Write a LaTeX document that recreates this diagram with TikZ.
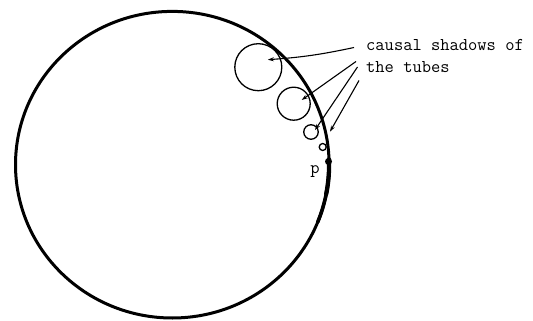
\documentclass[tikz,border=0pt]{standalone}
\usetikzlibrary{arrows.meta}
\begin{document}
\begin{tikzpicture}[x=1pt,y=-1pt,
  shadow/.style={draw,circle,line width=1.3pt,inner sep=0pt},
  pointer/.style={line width=1.1pt,-{Stealth[length=6pt,width=4pt]}},
  lbl/.style={font=\ttfamily\fontsize{18}{22}\selectfont,inner sep=0pt}]
\useasboundingbox (0,0) rectangle (533,321);
% big circle
\draw[line width=3pt] (172.3,164.7) ellipse [x radius=156.8, y radius=153.3];
\draw[line width=3.6pt,line cap=round] plot[domain=-2:22,smooth,samples=25] ({172.3+156.8*cos(\x)},{164.7+153.3*sin(\x)});
\draw[line width=4.3pt,line cap=round] plot[domain=-2:11,smooth,samples=15] ({172.3+156.8*cos(\x)},{164.7+153.3*sin(\x)});
% causal shadows
\node[shadow,minimum size=47pt] (c1) at (258.3,67.2) {};
\node[shadow,minimum size=33pt] (c2) at (293.7,103.7) {};
\node[shadow,minimum size=14.5pt] (c3) at (311,132) {};
\node[shadow,minimum size=7pt] (c4) at (322.7,147) {};
% point p
\node[fill,circle,minimum size=7pt,inner sep=0pt] (p) at (328.5,161.5) {};
\node[lbl,anchor=base] (plbl) at (315,173.3) {p};
% label
\node[lbl,anchor=base west] (t1) at (366,50.7) {causal shadows of};
\node[lbl,anchor=base west] (t2) at (366,72.7) {the tubes};
% arrow endpoints
\coordinate (s1) at (354,47.5);
\coordinate (s2) at (356,61.5);
\coordinate (s3) at (357.5,67);
\coordinate (s4) at (359,80.5);
\coordinate (e1) at ([shift={(9.5,-7.5)}]c1.center);
\coordinate (e2) at ([shift={(8,-3.7)}]c2.center);
\coordinate (e3) at ([shift={(4,-2)}]c3.center);
\coordinate (e4) at (330,131.7);
\draw[pointer] (s1) to[bend left=4] (e1);
\draw[pointer] (s2) -- (e2);
\draw[pointer] (s3) -- (e3);
\draw[pointer] (s4) -- (e4);
\end{tikzpicture}
\end{document}
